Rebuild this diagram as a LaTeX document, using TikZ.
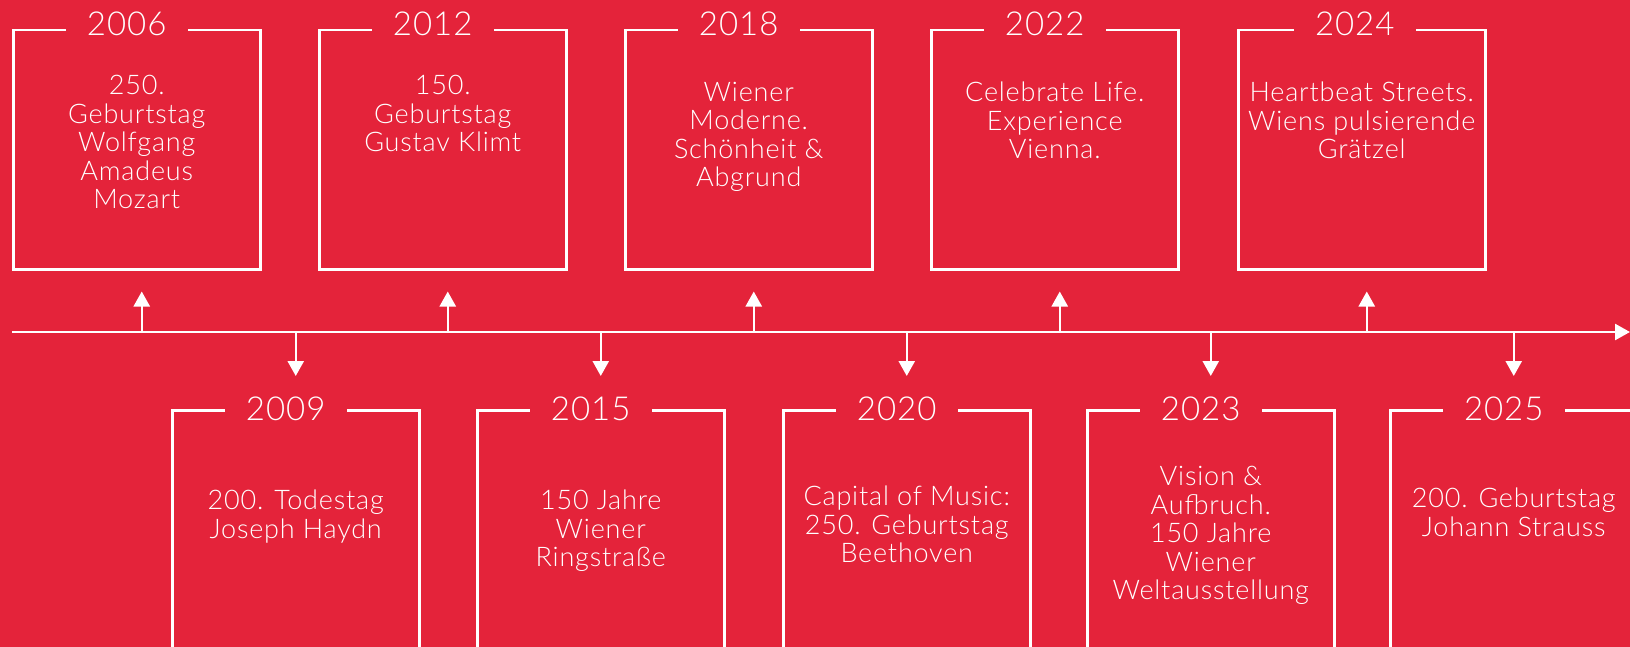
\documentclass[tikz,border=0pt]{standalone}
\usepackage{fontspec}
\setmainfont{Lato Light}[LetterSpace=3]
\usetikzlibrary{arrows.meta}
\definecolor{vred}{RGB}{228,35,58}
\tikzset{box/.style={draw=white, line width=2.5pt, minimum width=247pt, anchor=north west, inner sep=0pt}}
\tikzset{upbox/.style={box, minimum height=239pt}}
\tikzset{downbox/.style={box, minimum height=300pt}}
\tikzset{year/.style={fill=vred, text=white, inner xsep=21pt, inner ysep=2pt, font=\fontsize{33}{33}\selectfont}}
\tikzset{txt/.style={text=white, align=center, anchor=north, inner sep=0pt, font=\fontsize{27}{28.5}\selectfont}}
\tikzset{evt/.style={white, line width=2.5pt, -{Triangle[width=16pt,length=15pt]}}}

\begin{document}
\begin{tikzpicture}[x=1pt,y=-1pt]
		\useasboundingbox (0,0) rectangle (1630,647);
		\fill[vred] (0,0) rectangle (1630,647);
		% timeline
		\coordinate (tl0) at (12,332);
		\coordinate (tl1) at (1630,332);
		\draw[evt] (tl0) -- (tl1);
		% upper row
		\node[upbox] (b2006) at (12,29) {};
		\node[upbox] (b2012) at (318,29) {};
		\node[upbox] (b2018) at (624,29) {};
		\node[upbox] (b2022) at (930,29) {};
		\node[upbox] (b2024) at (1237,29) {};
		\node[year] (y2006) at ([xshift=-10pt,yshift=5pt]b2006.north) {2006};
		\node[year] (y2012) at ([xshift=-10pt,yshift=5pt]b2012.north) {2012};
		\node[year] (y2018) at ([xshift=-10pt,yshift=5pt]b2018.north) {2018};
		\node[year] (y2022) at ([xshift=-10pt,yshift=5pt]b2022.north) {2022};
		\node[year] (y2024) at ([xshift=-7pt,yshift=5pt]b2024.north) {2024};
		\node[txt] (t2006) at ([yshift=-46pt]b2006.north) {250.\\Geburtstag\\Wolfgang\\Amadeus\\Mozart};
		\node[txt] (t2012) at ([yshift=-46pt]b2012.north) {150.\\Geburtstag\\Gustav Klimt};
		\node[txt] (t2018) at ([yshift=-53pt]b2018.north) {Wiener\\Moderne.\\Schönheit \&\\Abgrund};
		\node[txt] (t2022) at ([yshift=-53pt]b2022.north) {Celebrate Life.\\Experience\\Vienna.};
		\node[txt] (t2024) at ([yshift=-53pt]b2024.north) {Heartbeat Streets.\\Wiens pulsierende\\Grätzel};
		\draw[evt, shorten >=21pt] ([xshift=5pt]b2006.south |- tl0) -- ([xshift=5pt]b2006.south);
		\draw[evt, shorten >=21pt] ([xshift=5pt]b2012.south |- tl0) -- ([xshift=5pt]b2012.south);
		\draw[evt, shorten >=21pt] ([xshift=5pt]b2018.south |- tl0) -- ([xshift=5pt]b2018.south);
		\draw[evt, shorten >=21pt] ([xshift=5pt]b2022.south |- tl0) -- ([xshift=5pt]b2022.south);
		\draw[evt, shorten >=21pt] ([xshift=5pt]b2024.south |- tl0) -- ([xshift=5pt]b2024.south);
		% lower row
		\node[downbox] (b2009) at (171,409) {};
		\node[downbox] (b2015) at (476,409) {};
		\node[downbox] (b2020) at (782,409) {};
		\node[downbox] (b2023) at (1086,409) {};
		\node[downbox] (b2025) at (1389,409) {};
		\node[year] (y2009) at ([xshift=-10pt]b2009.north) {2009};
		\node[year] (y2015) at ([xshift=-10pt]b2015.north) {2015};
		\node[year] (y2020) at ([xshift=-10pt]b2020.north) {2020};
		\node[year] (y2023) at ([xshift=-10pt]b2023.north) {2023};
		\node[year] (y2025) at ([xshift=-10pt]b2025.north) {2025};
		\node[txt] (t2009) at ([yshift=-81pt]b2009.north) {200. Todestag\\Joseph Haydn};
		\node[txt] (t2015) at ([yshift=-81pt]b2015.north) {150 Jahre\\Wiener\\Ringstraße};
		\node[txt] (t2020) at ([yshift=-77pt]b2020.north) {Capital of Music:\\250. Geburtstag\\Beethoven};
		\node[txt] (t2023) at ([yshift=-57pt]b2023.north) {Vision \&\\Aufbruch.\\150 Jahre\\Wiener\\Weltausstellung};
		\node[txt] (t2025) at ([yshift=-79pt]b2025.north) {200. Geburtstag\\Johann Strauss};
		\draw[evt, shorten >=33pt] (b2009.north |- tl0) -- (b2009.north);
		\draw[evt, shorten >=33pt] (b2015.north |- tl0) -- (b2015.north);
		\draw[evt, shorten >=33pt] (b2020.north |- tl0) -- (b2020.north);
		\draw[evt, shorten >=33pt] (b2023.north |- tl0) -- (b2023.north);
		\draw[evt, shorten >=33pt] (b2025.north |- tl0) -- (b2025.north);
\end{tikzpicture}
\end{document}
